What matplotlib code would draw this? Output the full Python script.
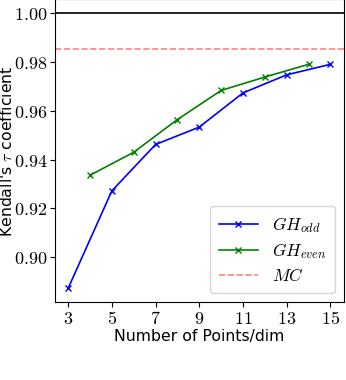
import numpy as np
import matplotlib
matplotlib.use("Agg")
import matplotlib.pyplot as plt

plt.rcParams["mathtext.fontset"] = "cm"

# data
pts_odd = [3, 5, 7, 9, 11, 13, 15]
tau_odd = [0.8873, 0.9272, 0.9462, 0.9533, 0.9673, 0.9747, 0.9790]
pts_even = [4, 6, 8, 10, 12, 14]
tau_even = [0.9336, 0.9430, 0.9564, 0.9683, 0.9738, 0.9790]
tau_mc = 0.9852
tau_exact = 1.0

xticks = [3, 5, 7, 9, 11, 13, 15]
yticks = [0.90, 0.92, 0.94, 0.96, 0.98, 1.00]

fig = plt.figure(figsize=(3.46, 3.80), dpi=100)
ax = fig.add_axes([0.159, 0.205, 0.834, 0.797])

ax.axhline(tau_exact, color="black", lw=1.2)
ax.plot(pts_odd, tau_odd, "x-", color="blue", lw=1.2, ms=4.5, label=r"$GH_{odd}$")
ax.plot(pts_even, tau_even, "x-", color="green", lw=1.2, ms=4.5, label=r"$GH_{even}$")
ax.axhline(tau_mc, color="#ff8080", ls="--", lw=1.2, label=r"$MC$")

ax.set_xticks(xticks)
ax.set_xticklabels([r"$%d$" % t for t in xticks], fontsize=13)
ax.set_yticks(yticks)
ax.set_yticklabels([r"$%.2f$" % t for t in yticks], fontsize=13)
ax.tick_params(axis="both", pad=2)
ax.margins(x=0.05, y=0.05)

ax.set_xlabel("Number of Points/dim", fontsize=11.3, labelpad=1)
ax.set_ylabel(r"Kendall's $\tau$ coefficient", fontsize=11.3)
ax.yaxis.set_label_coords(-0.138, 0.5)

ax.legend(loc="lower right", fontsize=12.5, handlelength=2.25,
          borderpad=0.5, labelspacing=0.35)

fig.savefig("out.png", dpi=100)
